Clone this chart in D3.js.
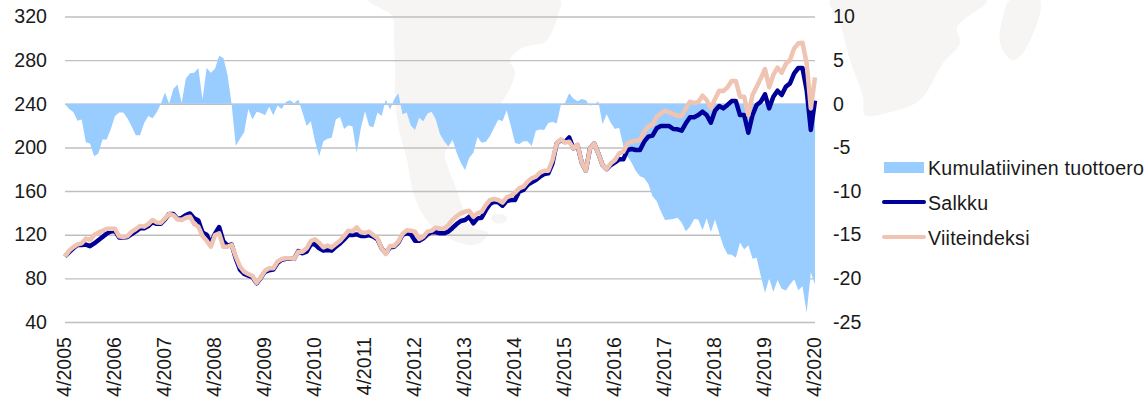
<!DOCTYPE html>
<meta charset="utf-8">
<script src="https://d3js.org/d3.v7.min.js"></script>
<style>
	body{
		margin:0;
		background:#fff;
		font-family:'Liberation Sans', sans-serif;
	}
	svg text{
		font-size:19.6px;
		fill:#1a1a1a;
	}
</style>
<div id="chart"></div>
<script>
// monthly from 4/2005 to 4/2020
var tuottoero = [
	0,-0.6,-0.95,-1.95,-1.8,-4.4,-4.55,-6,-5.7,-4.1,
	-4.1,-2.9,-1.4,-1,-1,-1.7,-2.6,-3.6,-3.6,-2.2,
	-1.4,-1.65,-1,0,1.3,0,1.7,2.2,0.1,2.9,
	3.5,3.55,4.1,0.5,4.1,3.55,4,5.5,5.25,3.35,
	-0.1,-4.8,-4,-3.25,-0.6,-1.8,-0.9,-1.05,-1.3,-0.35,
	-1.3,-0.2,-0.6,0.2,0.4,0.05,0.5,-1,-2.55,-2,
	-4.3,-6,-4.3,-4,-3.9,-1.8,-1.5,-2.9,-2.45,-2.6,
	-5.6,-2.8,-0.85,-2.55,-2.7,-1,-1.4,0.5,-0.65,0.5,
	1.2,-1.2,-1,-2.5,-3,-1.6,-2,-1.1,-0.9,-1.8,
	-3.5,-4.3,-4.9,-4.1,-5.6,-6.75,-7.6,-6.2,-5.6,-3.8,
	-4.45,-4.35,-3.7,-2.75,-1.8,-2,-0.75,-2.55,-4.45,-4.65,
	-4.3,-4.3,-4.85,-3.1,-2.95,-3,-2.2,-2.05,-2.25,-0.15,
	0.1,1.2,0.6,0.3,0.55,0.4,-0.2,-0.1,0.3,-2.35,
	-1.2,-2.2,-2.9,-2.75,-4.85,-6,-6.75,-7.7,-8.3,-8.5,
	-9.2,-10.6,-11.15,-12.3,-13.3,-13.25,-13.2,-13.05,-13.6,-14.6,
	-14.1,-13.2,-13.25,-14.5,-13.1,-14.7,-13.25,-14.8,-16.3,-17.25,
	-17.3,-17.65,-15.9,-16.7,-16.2,-17.75,-17.65,-19.75,-21.65,-20,
	-21.55,-20.2,-21.2,-21.4,-20.7,-20.1,-21.35,-20.9,-23.95,-19.3,-20.7
]
var salkku = [
	100,104,107.5,110.5,110.5,111,109.5,112,115,118,
	121,123,123.5,117.5,117.5,118,120.5,123,126,126,
	128,131.5,130,130,134,139,139,134.5,135.5,138,
	139.5,135,133,122,120,112,121,127,114,110,
	111,98,88,84,82.5,81,75.5,80.5,86,87.5,
	88,94,97,98,98,98,105,103,104.5,111.2,
	111.2,107.5,105.4,106,105.4,109,112,115.8,119.7,119.7,
	120.3,118.8,118.8,119.7,118.2,115.8,107.5,103,108.4,109,
	112.7,119.7,121.3,120.3,114.5,114.5,116.7,120.3,122.5,122.2,
	121.3,121.3,122.8,126.2,129.8,132.6,133.5,136.5,130.4,135,
	135.6,142.6,148.1,150.3,149.7,146.6,150.9,151.8,151.8,159.5,
	161,165.6,168,170.1,173.2,175.6,176.3,185.4,203.7,206.8,
	205,209.2,199.2,202.2,186.3,178.7,199.2,203.7,194.6,183.9,
	180.2,183.9,186.3,189.1,189.1,197.6,198.6,197.6,197.6,205.3,
	209.9,210.8,217.5,219.6,219.6,219.6,216.9,216.6,215.4,222.1,
	227.6,227.6,229.7,232.8,229.7,222.7,233.7,238,235.8,238.9,
	242.5,242.5,229.7,229.7,213.5,229.7,238.9,241.9,248.7,235.8,
	246.5,252,248,255.7,258.7,267.9,272.8,272.8,252.6,216,242.9
]
var viiteindeksi = [
	100,105.4,108.7,111.2,112.1,116.4,115.2,119.7,121.9,123.7,
	125.5,125.5,125.5,118.5,117.9,118.8,122.8,125.2,128,127.4,
	129.8,133.5,131.3,131,135,139,138,134.1,133.5,135.6,
	136.5,129.8,127.4,118.8,114.5,109,119.7,121.3,109,109,
	110.6,99.9,90.7,86.1,84,82.2,76,80.9,87,89.2,
	89.2,95.3,97.7,98.4,98.4,98,104.5,104.5,107.5,114.2,
	115.8,112.7,108.4,110,108.4,111.5,114.5,118.8,123.7,123.1,
	126.8,122.2,121.6,122.8,119.7,116.7,107.5,102.3,109.7,109.7,
	113.6,120.7,124,123.7,122.8,116.1,118.2,122.8,123.7,126.5,
	125.5,125.8,128.9,133.5,137.1,139.6,141.1,142,136.5,139.6,
	141.1,147.2,151.8,152.7,151.8,149.4,154.3,155.8,158.5,162.5,
	164,168.6,171.7,173.2,176.9,178.7,178.7,188.5,203.7,207.4,
	204.4,205.3,199.2,202.8,186.3,178.7,199.2,203.7,194.6,183.9,
	180.2,185.4,188.5,194.6,196.1,203.7,205.3,206.2,206.8,214.4,
	219.6,220.6,228.2,231.2,233.7,232.2,230.6,229.1,229.1,235.8,
	241.9,240.7,241.6,247.4,243.5,235.8,244.4,252,251.7,255.1,
	260.9,260.9,246.5,246.5,229.7,248,255.7,263.3,271.9,255.1,
	266.4,273.1,268.5,276.5,280.1,290.8,295.4,296,277.1,235.8,264.2
]
var leftTicks = [40,80,120,160,200,240,280,320]
var rightTicks = [-25,-20,-15,-10,-5,0,5,10]
var yearLabels = ["4/2005","4/2006","4/2007","4/2008","4/2009","4/2010","4/2011","4/2012","4/2013","4/2014","4/2015","4/2016","4/2017","4/2018","4/2019","4/2020"]
var legendLabels = ["Kumulatiivinen tuottoero","Salkku","Viiteindeksi"]

// faint world map behind the plot, page pixels
var mapShapes = [
	[[368,0],[384,10],[392,16],[394,40],[395,70],[395,100],[399,130],[407,160],[414,195],[428,222],[448,238],[470,245],[480,243],[488,233],[470,226],[462,205],[456,188],[449,170],[445,152],[468,132],[490,116],[508,92],[515,72],[510,60],[522,48],[545,42],[552,32],[558,15],[560,0]],
	[[830,0],[840,23],[850,60],[863,97],[865,115],[887,113],[920,100],[943,63],[960,43],[957,27],[987,0]],
	[[1010,0],[1003,17],[1000,43],[1012,60],[1023,53],[1040,0]],
	[[491,217],[500,214],[507,217],[505,222],[495,223]]
]

var w = 1145, h = 401
var plotLeft = 65, plotRight = 815, plotTop = 16.5, plotBottom = 322

var svg = d3.select("#chart").append("svg").attr("width",w).attr("height",h).style("display","block")

var x = d3.scaleLinear().domain([0,tuottoero.length-1]).range([plotLeft,plotRight])
var yLeft = d3.scaleLinear().domain([40,320]).range([plotBottom,plotTop])
var yRight = d3.scaleLinear().domain([-25,10]).range([plotBottom,plotTop])

svg.append("g").selectAll("path")
	.data(mapShapes)
	.join("path")
	.attr("d",d3.line().curve(d3.curveCatmullRomClosed))
	.attr("fill","#f6f5f4")

// gridlines come with the left axis
var gLeft = svg.append("g").attr("transform","translate("+plotLeft+",0)")
gLeft.call(d3.axisLeft(yLeft).tickValues(leftTicks).tickSize(0).tickPadding(18))
gLeft.select(".domain").remove()
gLeft.selectAll(".tick").append("line")
	.attr("x2",plotRight-plotLeft)
	.attr("stroke","#bfbfbf")
	.attr("stroke-width",1.4)

var area = d3.area()
	.x(function(d,i){return x(i)})
	.y0(yRight(0))
	.y1(function(d){return yRight(d)})
svg.append("path").datum(tuottoero).attr("d",area).attr("fill","#99ccff")

var line = d3.line()
	.x(function(d,i){return x(i)})
	.y(function(d){return yLeft(d)})
svg.append("path").datum(salkku).attr("d",line)
	.attr("fill","none").attr("stroke","#000099").attr("stroke-width",4.5).attr("stroke-linejoin","round")
svg.append("path").datum(viiteindeksi).attr("d",line)
	.attr("fill","none").attr("stroke","#f0c4b2").attr("stroke-width",4.5).attr("stroke-linejoin","round")

var gRight = svg.append("g").attr("transform","translate("+plotRight+",0)")
gRight.call(d3.axisRight(yRight).tickValues(rightTicks).tickSize(0).tickPadding(18).tickFormat(function(d){return String(d)}))
gRight.select(".domain").remove()

var xAxis = d3.axisBottom(x)
	.tickValues(d3.range(0,tuottoero.length,12))
	.tickSize(0)
	.tickFormat(function(d,i){return yearLabels[i]})
var gX = svg.append("g").attr("transform","translate(0,"+plotBottom+")").call(xAxis)
gX.select(".domain").remove()
gX.selectAll("text")
	.attr("transform","rotate(-90)")
	.attr("text-anchor","end")
	.attr("x",-15)
	.attr("y",-1)
	.attr("dy","0.35em")

// legend
var legend = svg.append("g")
legend.append("rect").attr("x",884).attr("y",162).attr("width",40).attr("height",11).attr("fill","#99ccff")
legend.append("line").attr("x1",884).attr("x2",924).attr("y1",202).attr("y2",202)
	.attr("stroke","#000099").attr("stroke-width",4).attr("stroke-linecap","round")
legend.append("line").attr("x1",884).attr("x2",924).attr("y1",237).attr("y2",237)
	.attr("stroke","#f0c4b2").attr("stroke-width",4).attr("stroke-linecap","round")
legend.selectAll("text")
	.data(legendLabels)
	.join("text")
	.attr("x",928)
	.attr("y",function(d,i){return [175,210,245][i]})
	.style("letter-spacing","0.25px")
	.text(function(d){return d})
</script>
